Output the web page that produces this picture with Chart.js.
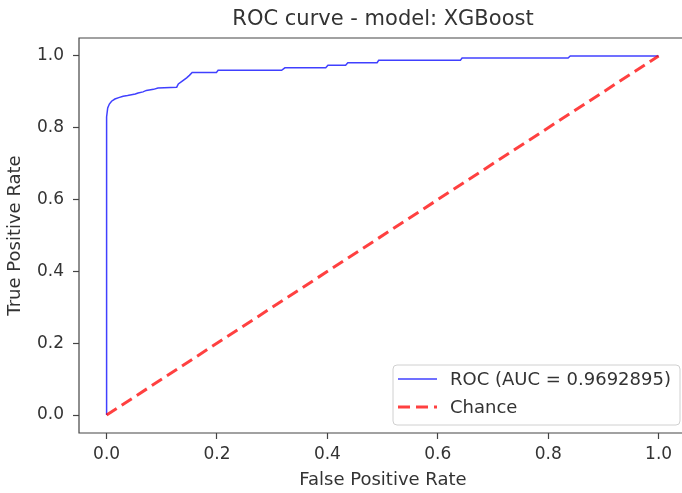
<!DOCTYPE html>
<html>
<head>
<meta charset="utf-8">
<script src="https://cdn.jsdelivr.net/npm/chart.js@4"></script>
<style>
    html, body { margin: 0; padding: 0; background: #fff; overflow: hidden; }
    #rocChart { display: block; }
</style>
</head>
<body>
<canvas id="rocChart" width="682" height="493"></canvas>
<script>
// ROC curve points
const fpr = [0, 0, 0.002, 0.005, 0.009, 0.015, 0.022, 0.030, 0.038, 0.045, 0.052, 0.057, 0.066, 0.072,
    0.085, 0.093, 0.127, 0.130, 0.137, 0.145, 0.150, 0.155, 0.199, 0.202, 0.317, 0.323, 0.397, 0.401,
    0.433, 0.437, 0.490, 0.493, 0.641, 0.644, 0.836, 0.840, 1.0];
const tpr = [0, 0.83, 0.855, 0.866, 0.874, 0.880, 0.884, 0.888, 0.890, 0.892, 0.894, 0.897, 0.900, 0.904,
    0.907, 0.911, 0.913, 0.922, 0.930, 0.939, 0.946, 0.954, 0.954, 0.960, 0.960, 0.967, 0.967, 0.974,
    0.974, 0.981, 0.981, 0.988, 0.988, 0.994, 0.994, 1.0, 1.0];

// Chance diagonal
const chanceX = [0, 1];
const chanceY = [0, 1];

const xTickValues = [0, 0.2, 0.4, 0.6, 0.8, 1.0];
const yTickValues = [0, 0.2, 0.4, 0.6, 0.8, 1.0];

const rocLabel = 'ROC (AUC = 0.9692895)';
const chanceLabel = 'Chance';
const chartTitle = 'ROC curve - model: XGBoost';
const xAxisLabel = 'False Positive Rate';
const yAxisLabel = 'True Positive Rate';

const FONT = "'DejaVu Sans', sans-serif";
const toPoints = (xs, ys) => xs.map((x, i) => ({ x: x, y: ys[i] }));

// Axes frame: left, top, bottom (right spine falls just outside the picture)
const framePlugin = {
    id: 'frame',
    afterDraw(chart) {
        const { ctx, chartArea: a } = chart;
        ctx.save();
        // keep the cropped right edge clean
        ctx.fillStyle = '#fff';
        ctx.fillRect(a.right - 2, a.top + 2, 4, a.bottom - a.top - 4);
        ctx.strokeStyle = '#444';
        ctx.lineWidth = 1.2;
        ctx.beginPath();
        ctx.moveTo(a.right + 2, a.top);
        ctx.lineTo(a.left, a.top);
        ctx.lineTo(a.left, a.bottom);
        ctx.lineTo(a.right + 2, a.bottom);
        ctx.stroke();
        ctx.restore();
    }
};

// Legend box in the lower right of the axes
const boxLegendPlugin = {
    id: 'boxLegend',
    afterDraw(chart) {
        const { ctx, chartArea: a } = chart;
        const w = 287, h = 60;
        const left = 393;
        const top = a.bottom - 8 - h;
        ctx.save();
        ctx.beginPath();
        ctx.roundRect(left, top, w, h, 4);
        ctx.fillStyle = 'rgba(255,255,255,0.85)';
        ctx.fill();
        ctx.strokeStyle = '#d0d0d0';
        ctx.lineWidth = 1;
        ctx.stroke();

        const items = chart.data.datasets.slice().sort((p, q) => p.legendIndex - q.legendIndex);
        items.forEach((ds, i) => {
            const y = top + 14 + i * 28;
            ctx.beginPath();
            ctx.setLineDash(ds.borderDash || []);
            ctx.strokeStyle = ds.borderColor;
            ctx.lineWidth = ds.borderWidth;
            ctx.moveTo(left + 5, y);
            ctx.lineTo(left + 44, y);
            ctx.stroke();
            ctx.setLineDash([]);
            ctx.fillStyle = '#333';
            ctx.font = '18px ' + FONT;
            ctx.textBaseline = 'middle';
            ctx.fillText(ds.label, left + 57, y + 1);
        });
        ctx.restore();
    }
};

// Title and x label centred over the full (uncropped) axes width, as in the reference
const centredTextPlugin = {
    id: 'centredText',
    afterDraw(chart) {
        const { ctx } = chart;
        ctx.save();
        ctx.fillStyle = '#333';
        ctx.textAlign = 'center';
        ctx.textBaseline = 'middle';
        ctx.font = '21px ' + FONT;
        ctx.fillText(chartTitle, 383, 20);
        ctx.font = '18px ' + FONT;
        ctx.fillText(xAxisLabel, 383, 480);
        ctx.restore();
    }
};

const axisTicks = {
    display: true,
    drawOnChartArea: false,
    color: '#444',
    tickLength: 6,
    tickWidth: 1.2
};

new Chart(document.getElementById('rocChart').getContext('2d'), {
    type: 'scatter',
    data: {
        datasets: [{
            label: rocLabel,
            data: toPoints(fpr, tpr),
            showLine: true,
            borderColor: 'rgba(0, 0, 255, 0.75)',
            borderWidth: 1.5,
            pointRadius: 0,
            order: 1,
            legendIndex: 0
        }, {
            label: chanceLabel,
            data: toPoints(chanceX, chanceY),
            showLine: true,
            borderColor: 'rgba(255, 0, 0, 0.75)',
            borderWidth: 3,
            borderDash: [12, 6],
            pointRadius: 0,
            order: 0,
            legendIndex: 1
        }]
    },
    options: {
        responsive: false,
        animation: false,
        layout: { padding: { top: 38, left: 0, right: 0, bottom: 0 } },
        scales: {
            x: {
                type: 'linear',
                min: -0.05,
                max: 1.0424,
                afterBuildTicks: scale => { scale.ticks = xTickValues.map(v => ({ value: v })); },
                afterFit: scale => { scale.height = 60; },
                grid: axisTicks,
                border: { display: false },
                ticks: {
                    color: '#333',
                    padding: 5,
                    maxRotation: 0,
                    font: { family: FONT, size: 17 },
                    callback: v => v.toFixed(1)
                },
                title: { display: false }
            },
            y: {
                type: 'linear',
                min: -0.05,
                max: 1.05,
                afterBuildTicks: scale => { scale.ticks = yTickValues.map(v => ({ value: v })); },
                afterFit: scale => { scale.width = 79; },
                grid: axisTicks,
                border: { display: false },
                ticks: {
                    color: '#333',
                    padding: 9,
                    font: { family: FONT, size: 17 },
                    callback: v => v.toFixed(1)
                },
                title: {
                    display: true,
                    text: yAxisLabel,
                    color: '#333',
                    font: { family: FONT, size: 18 },
                    padding: { top: 5, bottom: 0 }
                }
            }
        },
        plugins: {
            legend: { display: false },
            tooltip: { enabled: false },
            title: { display: false }
        }
    },
    plugins: [framePlugin, boxLegendPlugin, centredTextPlugin]
});
</script>
</body>
</html>
